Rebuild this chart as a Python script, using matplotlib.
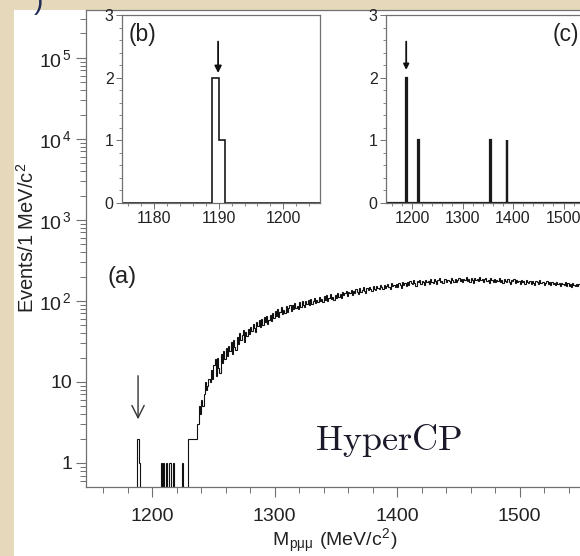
import numpy as np
import matplotlib
matplotlib.use("Agg")
import matplotlib.pyplot as plt
from matplotlib.ticker import MultipleLocator, LogLocator, FuncFormatter, NullFormatter
from matplotlib.patches import Rectangle

plt.rcParams['font.family'] = ['Liberation Sans', 'DejaVu Sans']
plt.rcParams['mathtext.fontset'] = 'cm'

# ---- data (1 MeV/c^2 bins, value = events in bin starting at that mass) ----
sparse_bins = [1188, 1189, 1207, 1209, 1211, 1214, 1217, 1224]
sparse_counts = [2, 1, 1, 1, 1, 1, 1, 1]

cont_start = 1229
cont_counts = [
    2, 2, 2, 2, 2, 2, 2, 2, 3, 5,
    4, 6, 5, 7, 10, 8, 9, 11, 10, 14,
    11, 16, 19, 12, 20, 15, 13, 22, 17, 24,
    19, 26, 21, 28, 24, 31, 22, 33, 27, 25,
    36, 29, 40, 33, 38, 44, 31, 41, 37, 45,
    39, 48, 43, 52, 46, 41, 55, 49, 58, 47,
    60, 50, 63, 55, 66, 52, 58, 68, 57, 70,
    62, 75, 66, 80, 64, 72, 84, 69, 78, 71,
    86, 73, 82, 90, 76, 88, 79, 94, 81, 87,
    80, 96, 85, 101, 89, 83, 99, 92, 104, 88,
    106, 91, 100, 110, 94, 103, 97, 112, 99, 105,
    98, 114, 104, 118, 101, 110, 122, 106, 113, 103,
    119, 108, 126, 113, 121, 110, 129, 117, 124, 132,
    115, 130, 124, 137, 119, 133, 126, 141, 128, 122,
    143, 129, 138, 147, 134, 126, 145, 137, 150, 140,
    133, 151, 142, 137, 155, 144, 139, 156, 147, 141,
    158, 144, 153, 162, 149, 141, 165, 152, 159, 148,
    163, 150, 168, 157, 146, 170, 159, 166, 154, 172,
    158, 176, 165, 161, 180, 167, 155, 174, 169, 183,
    163, 177, 171, 158, 182, 169, 175, 164, 186, 172,
    167, 185, 174, 161, 180, 190, 170, 178, 165, 184,
    188, 171, 182, 176, 166, 191, 180, 173, 186, 169,
    183, 194, 175, 186, 170, 189, 181, 196, 177, 184,
    172, 190, 182, 168, 193, 179, 186, 174, 197, 183,
    188, 171, 184, 192, 176, 182, 167, 190, 180, 173,
    185, 169, 181, 176, 192, 172, 183, 165, 187, 178,
    170, 184, 173, 163, 180, 176, 188, 168, 179, 171,
    177, 164, 181, 170, 175, 160, 183, 172, 166, 178,
    163, 176, 168, 159, 174, 171, 162, 180, 165, 170,
    172, 158, 167, 175, 160, 169, 156, 171, 163, 168,
    157, 170, 161, 166, 152, 168, 164, 158, 171, 155,
    166, 154, 162, 149, 167, 158, 152, 163, 155, 160,
    150, 161, 153, 158, 146, 156, 162, 149, 157, 152,
]

# signal-region candidates (insets b and c)
b_bins = [1189, 1190]
b_counts = [2, 1]
c_bins = [1189, 1190, 1212, 1355, 1388]
c_counts = [2, 1, 1, 1, 1]

main_yticks = [1, 10, 100, 1000, 1e4, 1e5]

# ---- build histograms ----
lo = 1140
edges = np.arange(lo, cont_start + len(cont_counts) + 1)
counts = np.zeros(len(edges) - 1)
for b, n in zip(sparse_bins, sparse_counts):
    counts[b - lo] = n
counts[cont_start - lo:] = cont_counts


def small_hist(bins, vals, start, stop):
    e = np.arange(start, stop + 1)
    h = np.zeros(len(e) - 1)
    for b, n in zip(bins, vals):
        h[b - start] = n
    return e, h


W, H = 580, 556


def box(l, t, r, b):
    return [l / W, 1 - b / H, (r - l) / W, (b - t) / H]


bg = '#e6d9bb'
spine_c = '#707070'
txt_c = '#222222'

fig = plt.figure(figsize=(5.8, 5.56), dpi=100, facecolor=bg)
fig.patches.append(Rectangle((14 / W, 0), 1, 1 - 10 / H, transform=fig.transFigure,
                             facecolor='white', edgecolor='none', zorder=-10))

# ---- main panel (a) ----
ax = fig.add_axes(box(86, 10, 642, 487))
ax.set_facecolor('white')
ax.stairs(counts, edges, baseline=None, color='#111111', lw=0.8)
ax.set_yscale('log')
ax.set_xlim(1146, 1600)
ax.set_ylim(0.505, 3.9e5)
ax.xaxis.set_major_locator(MultipleLocator(100))
ax.xaxis.set_minor_locator(MultipleLocator(20))
ax.set_yticks(main_yticks)
ax.yaxis.set_minor_locator(LogLocator(base=10, subs=np.arange(2, 10)))
ax.yaxis.set_minor_formatter(NullFormatter())


def fmt_y(v, pos):
    e = int(round(np.log10(v)))
    if e <= 1:
        return str(int(v))
    return r'$\mathregular{10^{\,%d}}$' % e


ax.yaxis.set_major_formatter(FuncFormatter(fmt_y))
for s in ax.spines.values():
    s.set_color(spine_c)
    s.set_linewidth(0.9)
ax.tick_params(axis='both', which='major', direction='out', length=7, width=0.8,
               color=spine_c, labelsize=14, labelcolor=txt_c)
ax.tick_params(axis='both', which='minor', direction='out', length=4, width=0.7,
               color=spine_c)
ax.tick_params(axis='x', pad=8)
ax.tick_params(axis='y', pad=3)

ax.annotate('', xy=(1188.5, 3.2), xytext=(1188.5, 12.9),
            arrowprops=dict(arrowstyle='->', color='#333333', lw=1.0, mutation_scale=22))
ax.text(122 / W, 1 - 277 / H, '(a)', transform=fig.transFigure, ha='center', va='center',
        fontsize=17, color=txt_c)
fig.text(389 / W, 1 - 450 / H, r'$\mathrm{HyperCP}$', ha='center', va='baseline',
         fontsize=26, color='#1a1a2a')

fig.text(27 / W, 1 - 238 / H, r'Events/1 MeV/c$^{\mathregular{2}}$', rotation=90,
         ha='center', va='center', fontsize=14.5, color=txt_c)
fig.text(335 / W, 1 - 546 / H, r'M$_{\mathregular{p\mu\mu}}$ (MeV/c$^{\mathregular{2}}$)',
         ha='center', va='baseline', fontsize=14, color=txt_c)

# top-left fragment
fig.text(38 / W, 1 - 2 / H, ')', ha='center', va='center', fontsize=20, color='#1f2a55')


# ---- insets ----
def style_inset(a):
    a.set_facecolor('white')
    for s in a.spines.values():
        s.set_color(spine_c)
        s.set_linewidth(0.9)
    a.set_ylim(0, 3)
    a.yaxis.set_major_locator(MultipleLocator(1))
    a.yaxis.set_minor_locator(MultipleLocator(0.2))
    a.tick_params(axis='both', which='major', direction='out', length=4, width=0.7,
                  color=spine_c, labelsize=11.5, labelcolor=txt_c, pad=2)
    a.tick_params(axis='both', which='minor', direction='out', length=2, width=0.6,
                  color=spine_c)


axb = fig.add_axes(box(122, 15, 320, 203))
eb, hb = small_hist(b_bins, b_counts, 1170, 1210)
axb.stairs(hb, eb, baseline=0, color='#1a1a1a', lw=1.2)
axb.set_xlim(1175, 1205.7)
axb.xaxis.set_major_locator(MultipleLocator(10))
axb.xaxis.set_minor_locator(MultipleLocator(2))
style_inset(axb)
axb.annotate('', xy=(1189.9, 2.03), xytext=(1189.9, 2.62),
             arrowprops=dict(arrowstyle='-|>', color='#111111', lw=1.3, mutation_scale=10))
axb.text(142 / W, 1 - 34 / H, '(b)', transform=fig.transFigure, ha='center', va='center',
         fontsize=16.5, color=txt_c)

axc = fig.add_axes(box(386, 15, 614, 203))
ec, hc = small_hist(c_bins, c_counts, 1150, 1600)
axc.stairs(hc, ec, baseline=0, color='#1a1a1a', lw=1.6)
axc.set_xlim(1148.5, 1600)
axc.xaxis.set_major_locator(MultipleLocator(100))
axc.xaxis.set_minor_locator(MultipleLocator(20))
style_inset(axc)
axc.annotate('', xy=(1188.5, 2.08), xytext=(1188.5, 2.62),
             arrowprops=dict(arrowstyle='-|>', color='#111111', lw=1.3, mutation_scale=8))
axc.text(566 / W, 1 - 34 / H, '(c)', transform=fig.transFigure, ha='center', va='center',
         fontsize=16.5, color=txt_c)

fig.savefig('out.png', dpi=100, facecolor=bg)
